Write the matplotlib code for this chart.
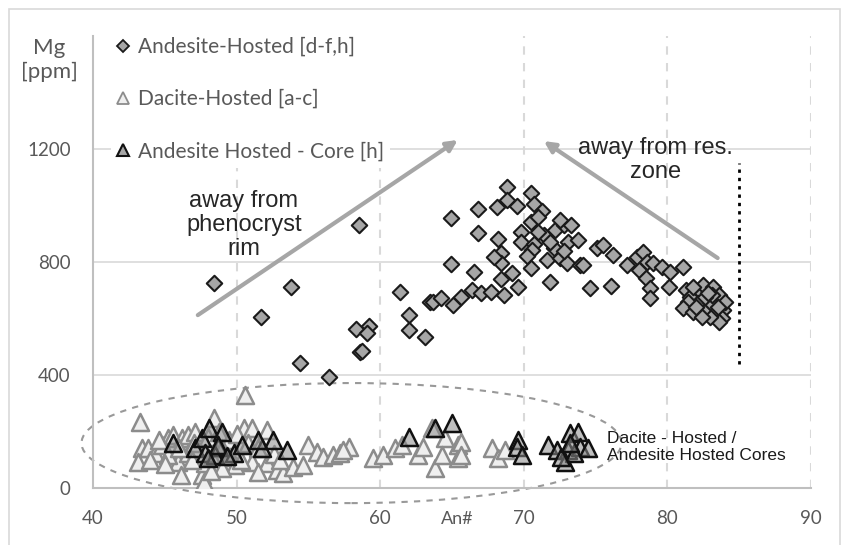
import numpy as np
from matplotlib import pyplot as plt
from matplotlib.lines import Line2D
from matplotlib.patches import Ellipse, Rectangle

# --------------------------------------------------------------------------------------------------
# Data (An# vs Mg ppm)
# --------------------------------------------------------------------------------------------------

andesite_an = [48.4, 51.7, 53.8, 54.4, 56.4, 58.5, 58.3, 59.2, 59.1, 58.6, 58.7, 61.4, 62.0, 62.0,
               63.1, 63.5, 63.7, 64.2, 65.1, 65.6, 66.4, 67.0, 67.7, 68.6, 64.9, 66.8, 68.1, 68.8,
               68.8, 69.5, 70.5, 70.7, 71.3, 66.8, 68.2, 69.8, 70.5, 69.8, 71.4, 72.2, 72.8, 73.1,
               73.8, 70.7, 72.1, 70.6, 68.4, 68.4, 67.9, 64.9, 66.5, 70.5, 71.6, 72.5, 73.0, 73.9,
               75.1, 68.4, 69.6, 71.8, 74.6, 75.5, 76.2, 74.1, 76.1, 77.2, 77.9, 78.3, 78.6, 78.0,
               79.0, 79.6, 80.2, 81.1, 78.5, 78.8, 78.8, 80.1, 81.3, 81.6, 82.2, 82.5, 83.2, 83.6,
               83.9, 83.8, 83.6, 83.0, 82.5, 82.1, 81.4, 81.1, 81.8, 82.4, 83.0, 83.1, 84.0, 82.6,
               81.8, 82.8, 83.5, 82.0, 71.0, 72.5, 73.3, 71.8, 70.2, 69.2, 72.8, 71.0]
andesite_mg = [726, 605, 712, 442, 393, 931, 563, 573, 548, 481, 485, 694, 612, 559,
               535, 658, 658, 672, 648, 676, 701, 690, 694, 683, 956, 987, 995, 1066,
               1019, 998, 1044, 1005, 981, 902, 881, 906, 942, 872, 896, 913, 931, 871,
               878, 863, 850, 842, 832, 796, 818, 793, 765, 779, 807, 814, 796, 789,
               850, 740, 712, 729, 708, 860, 825, 789, 715, 789, 818, 835, 800, 772,
               796, 782, 765, 782, 743, 708, 672, 712, 701, 676, 701, 719, 712, 683,
               630, 602, 588, 605, 630, 655, 658, 637, 623, 605, 658, 683, 658, 676,
               712, 690, 640, 640, 960, 950, 930, 870, 820, 760, 840, 905]

dacite_an = [43.3, 43.4, 43.1, 43.8, 44.3, 44.8, 45.2, 45.6, 45.9, 46.1, 45.2, 46.2, 46.6, 47.1,
             46.6, 47.6, 47.7, 47.8, 48.3, 48.4, 50.6, 50.5, 51.1, 52.1, 49.5, 51.1, 52.1, 52.8,
             53.2, 53.9, 54.6, 55.0, 55.6, 56.0, 56.7, 57.2, 51.5, 49.9, 57.8, 57.4, 59.5, 60.2,
             61.0, 61.5, 62.6, 63.0, 63.8, 63.6, 64.5, 64.3, 65.4, 65.4, 67.8, 68.2, 68.7, 65.6,
             65.6, 44.0, 45.0, 46.0, 47.0, 48.0, 48.8, 49.5, 50.0, 49.0, 50.8, 51.5, 52.6, 53.0,
             50.3, 49.0, 48.2, 44.6, 46.9]
dacite_mg = [234, 142, 92, 142, 124, 152, 177, 188, 92, 46, 117, 177, 188, 198,
             124, 46, 21, 88, 110, 248, 329, 212, 212, 205, 110, 92, 88, 64,
             53, 74, 81, 152, 127, 110, 117, 124, 57, 81, 145, 134, 106, 117,
             142, 152, 117, 145, 71, 212, 177, 117, 152, 106, 142, 106, 134, 163,
             117, 100, 85, 140, 160, 180, 198, 170, 190, 140, 160, 140, 120, 100,
             100, 70, 60, 170, 100]

core_an = [45.6, 47.1, 47.6, 48.1, 47.8, 48.7, 48.5, 49.0, 48.7, 49.8, 50.4, 51.8, 52.5, 53.5,
           51.5, 62.0, 63.8, 65.0, 69.6, 69.5, 69.9, 71.7, 72.3, 73.2, 73.8, 73.1, 72.9, 73.9,
           74.5, 73.5, 72.6, 73.2, 48.0, 49.3]
core_mg = [159, 142, 177, 212, 124, 145, 117, 198, 152, 124, 152, 142, 170, 134,
           170, 180, 212, 230, 170, 145, 117, 152, 134, 195, 198, 134, 92, 145,
           142, 124, 110, 159, 105, 115]

labels = ['Andesite-Hosted [d-f,h]', 'Dacite-Hosted [a-c]', 'Andesite Hosted - Core [h]']
x_ticks = [40, 50, 60, 70, 80, 90]
y_ticks = [0, 400, 800, 1200]

# --------------------------------------------------------------------------------------------------
# Figure
# --------------------------------------------------------------------------------------------------

txt_grey = '#595959'
grid_grey = '#d9d9d9'

fig = plt.figure(figsize=(8.41, 5.45), dpi=100)
ax = fig.add_axes([93/841, 1 - 488/545, (811 - 93)/841, (488 - 36)/545])
ax.set_xlim(40, 90)
ax.set_ylim(0, 1600)

# outer chart border
fig.patches.append(Rectangle((9/841, -0.02), 831/841, 1.02 - 9/545, transform=fig.transFigure,
                             fill=False, edgecolor=grid_grey, lw=1.2))

for y in y_ticks[1:]:
    ax.axhline(y, color=grid_grey, lw=1.2, zorder=0)
for x in x_ticks[1:]:
    ax.axvline(x, color=grid_grey, lw=1.5, ls=(0, (4, 4)), zorder=0)

for side in ['top', 'right']:
    ax.spines[side].set_visible(False)
for side in ['left', 'bottom']:
    ax.spines[side].set_color('#bfbfbf')
    ax.spines[side].set_linewidth(1.5)

ax.set_xticks(x_ticks)
ax.set_yticks(y_ticks)
ax.tick_params(length=0, labelsize=13.5, labelcolor=txt_grey, pad=16)
for lab in ax.get_xticklabels() + ax.get_yticklabels():
    lab.set_fontfamily('Lato')

# scatter series
ax.scatter(andesite_an, andesite_mg, marker='D', s=62, facecolor='#a6a6a6',
           edgecolor='#1a1a1a', lw=1.5, zorder=3)
ax.scatter(dacite_an, dacite_mg, marker='^', s=150, facecolor='#efefef',
           edgecolor='#8c8c8c', lw=1.8, zorder=4)
ax.scatter(core_an, core_mg, marker='^', s=150, facecolor=(0.55, 0.55, 0.55, 0.55),
           edgecolor='#111111', lw=1.8, zorder=5)

# annotations
arrow_kw = dict(arrowstyle='-|>', color='#a6a6a6', lw=3, mutation_scale=16, shrinkA=0, shrinkB=0)
ax.annotate('', xy=(65.4, 1232), xytext=(47.3, 612), arrowprops=arrow_kw, zorder=6)
ax.annotate('', xy=(71.4, 1228), xytext=(83.5, 814), arrowprops=arrow_kw, zorder=6)

ax.text(50.5, 931, 'away from\nphenocryst\nrim', ha='center', va='center', fontsize=17,
        family='Liberation Sans', color='#262626', linespacing=1.12, zorder=7)
ax.text(79.2, 1161, 'away from res.\nzone', ha='center', va='center', fontsize=17,
        family='Liberation Sans', color='#262626', linespacing=1.12, zorder=7)

ax.plot([85, 85], [440, 1150], color='black', lw=2, ls=(0, (1.2, 1.8)), zorder=6)

ax.add_patch(Ellipse((58.0, 159), 37.6, 425, fill=False, edgecolor='#999999', lw=1.5,
                     ls=(0, (3, 3)), clip_on=False, zorder=2))
ax.text(75.8, 145, 'Dacite - Hosted /\nAndesite Hosted Cores', ha='left', va='center',
        fontsize=12.5, family='Liberation Sans', color='#1a1a1a', linespacing=1.15, zorder=7)

# axis titles
fig.text(49/841, 1 - 60/545, 'Mg\n[ppm]', ha='center', va='center', fontsize=16,
         family='Lato', color=txt_grey, linespacing=1.2)
ax.text(65.4, -0.068, 'An#', transform=ax.get_xaxis_transform(), ha='center', va='center',
        fontsize=13, family='Lato', color=txt_grey)

# legend
handles = [Line2D([], [], ls='', marker='D', ms=6, mfc='#a6a6a6', mec='#1a1a1a', mew=1.3),
           Line2D([], [], ls='', marker='^', ms=9, mfc='#efefef', mec='#8c8c8c', mew=1.3),
           Line2D([], [], ls='', marker='^', ms=9, mfc='#a6a6a6', mec='#111111', mew=1.5)]
leg = ax.legend(handles, labels, loc='upper left', bbox_to_anchor=(0.01, 1.035), frameon=True,
                labelspacing=1.55, handlelength=0.6, handletextpad=0.4,
                borderpad=0.3, prop={'family': 'Lato', 'size': 15})
leg.get_frame().set_facecolor('white')
leg.get_frame().set_edgecolor('none')
leg.get_frame().set_alpha(1)
leg.set_zorder(8)
for t in leg.get_texts():
    t.set_color(txt_grey)

fig.savefig('out.png', dpi=100)
